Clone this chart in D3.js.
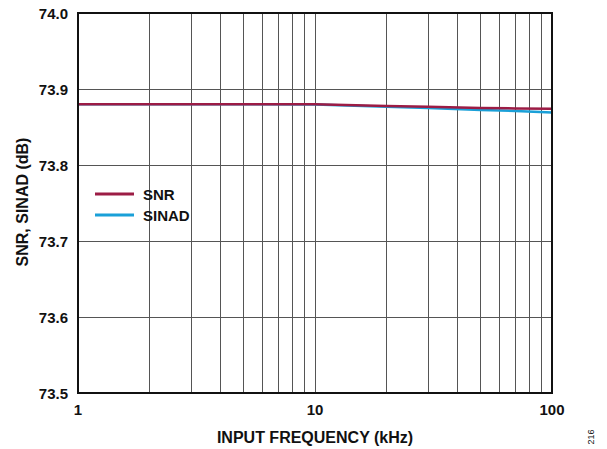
<!DOCTYPE html>
<html><head><meta charset="utf-8">
<script src="https://cdn.jsdelivr.net/npm/d3@7"></script>
<style>body{margin:0;background:#fff}svg{display:block}text{font-family:"Liberation Sans",Arial,sans-serif;font-weight:bold;fill:#111}</style>
</head><body><svg id="c" width="607" height="449"></svg>
<script>
const freqs = [1, 2, 3, 5, 10, 20, 30, 50, 70, 100];
const snr   = [73.880, 73.880, 73.880, 73.880, 73.880, 73.8775, 73.8765, 73.875, 73.8745, 73.874];
const sinad = [73.880, 73.880, 73.880, 73.880, 73.8795, 73.8765, 73.875, 73.8725, 73.871, 73.869];
const yTicks = [73.5, 73.6, 73.7, 73.8, 73.9, 74.0];
const xTickLabels = [1, 10, 100];
const seriesNames = ["SNR", "SINAD"];
const seriesColors = ["#9c1c45", "#1aa0d8"];

const svg = d3.select("#c");
const L = 78, R = 552, T = 13, B = 393;
const x = d3.scaleLog().domain([1, 100]).range([L, R]);
const y = d3.scaleLinear().domain([73.5, 74.0]).range([B, T]);

// grid
const minor = [];
for (let d = 1; d <= 10; d *= 10) for (let k = 2; k <= 9; k++) minor.push(k * d);
minor.push(10);
svg.append("g").selectAll("line").data(minor).join("line")
  .attr("x1", d => x(d)).attr("x2", d => x(d)).attr("y1", T).attr("y2", B)
  .attr("stroke", "#555").attr("stroke-width", 1).attr("shape-rendering", "crispEdges");
svg.append("g").selectAll("line").data(yTicks.slice(1, -1)).join("line")
  .attr("x1", L).attr("x2", R).attr("y1", d => y(d)).attr("y2", d => y(d))
  .attr("stroke", "#555").attr("stroke-width", 1).attr("shape-rendering", "crispEdges");

// series
const line = d3.line().x((d, i) => x(freqs[i])).y(d => y(d));
svg.append("path").datum(sinad).attr("d", line).attr("fill", "none")
  .attr("stroke", seriesColors[1]).attr("stroke-width", 2.5);
svg.append("path").datum(snr).attr("d", line).attr("fill", "none")
  .attr("stroke", seriesColors[0]).attr("stroke-width", 2.5);

// frame
svg.append("rect").attr("x", L).attr("y", T).attr("width", R - L).attr("height", B - T)
  .attr("fill", "none").attr("stroke", "#111").attr("stroke-width", 2);

// tick labels
svg.append("g").selectAll("text").data(yTicks).join("text")
  .attr("x", L - 10).attr("y", d => y(d) + 6).attr("text-anchor", "end")
  .attr("font-size", 15).text(d => d.toFixed(1));
svg.append("g").selectAll("text").data(xTickLabels).join("text")
  .attr("x", d => x(d)).attr("y", 415).attr("text-anchor", "middle")
  .attr("font-size", 15).text(d => d);

// axis titles
svg.append("text").attr("x", 315).attr("y", 443).attr("text-anchor", "middle")
  .attr("font-size", 16).text("INPUT FREQUENCY (kHz)");
svg.append("text").attr("transform", "translate(28,202) rotate(-90)").attr("text-anchor", "middle")
  .attr("font-size", 16).text("SNR, SINAD (dB)");
svg.append("text").attr("transform", "translate(594,437) rotate(-90)").attr("text-anchor", "middle")
  .attr("font-size", 9).style("font-weight", "normal").text("216");

// legend
const lg = svg.append("g");
seriesNames.forEach((n, i) => {
  const yy = 194 + i * 21;
  lg.append("line").attr("x1", 95).attr("x2", 134).attr("y1", yy).attr("y2", yy)
    .attr("stroke", seriesColors[i]).attr("stroke-width", 3);
  lg.append("text").attr("x", 143).attr("y", yy + 5.5).attr("font-size", 15).text(n);
});
</script></body></html>
